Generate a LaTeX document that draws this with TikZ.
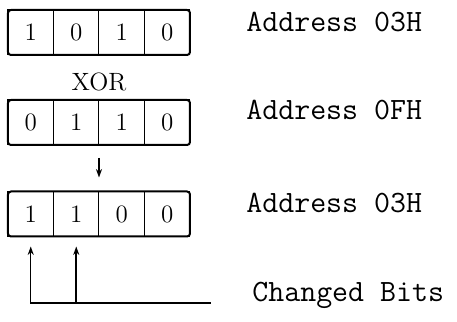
\documentclass[tikz,border=0pt]{standalone}
\usetikzlibrary{arrows.meta,positioning,calc}

\begin{document}
\begin{tikzpicture}[x=0.5pt, y=0.5pt, >={Stealth[length=4.2pt, width=3pt]},
  bit/.style={draw, line width=0.5pt, minimum width=22.75pt, minimum height=22.5pt,
    inner sep=0pt, outer sep=0pt, font=\fontsize{12.5}{14}\selectfont},
  addr/.style={anchor=base west, inner sep=0pt, font=\ttfamily\fontsize{15.5}{18}\selectfont},
  wire/.style={line width=0.75pt}]
  \useasboundingbox (0,0) rectangle (457,322);
  \def\cw{45.5}

  % three registers, one row each
  \foreach \row/\yy/\bits in {1/289.5/{1,0,1,0}, 2/199.5/{0,1,1,0}, 3/108/{1,1,0,0}} {
    \foreach \b [count=\col] in \bits
      \node[bit] (c\row\col) at (8+\cw*\col-0.5*\cw, \yy) {\b};
    \draw[line width=1pt, rounded corners=1.5pt] (c\row1.north west) rectangle (c\row4.south east);
  }

  \node[font=\fontsize{12.5}{14}\selectfont, yshift=-2pt] (xor) at ($(c12.south east)!0.5!(c22.north east)$) {XOR};
  \draw[wire, ->, shorten <=6.5pt, shorten >=7pt] (c22.south east) -- (c32.north east);

  % marks under the changed bits
  \coordinate (chg) at (211,19);
  \draw[wire, ->, shorten >=5pt] (chg) -| (c31.south);
  \draw[wire, ->, shorten >=5pt] (c32.south |- chg) -- (c32.south);

  \node[addr] (a1) at (246,290) {Address 03H};
  \node[addr] (a2) at (246,202) {Address 0FH};
  \node[addr] (a3) at (246,109) {Address 03H};
  \node[addr] (bits) at (252,20) {Changed Bits};
\end{tikzpicture}
\end{document}
